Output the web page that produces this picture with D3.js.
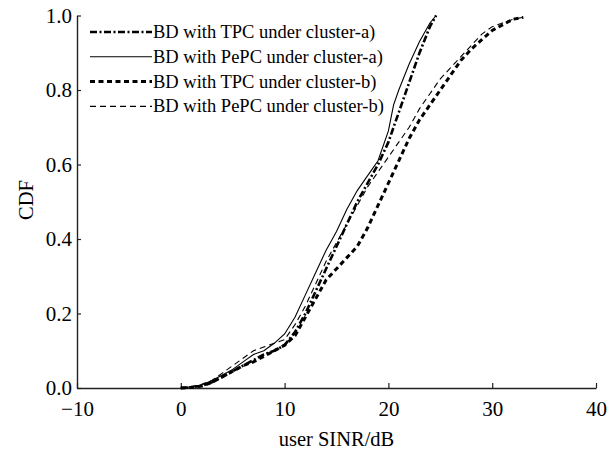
<!DOCTYPE html>
<html>
<head>
<meta charset="utf-8">
<script src="https://cdn.jsdelivr.net/npm/d3@7"></script>
<style>
  body { margin: 0; background: #fff; }
  text { font-family: "Liberation Serif", "Times New Roman", serif; fill: #000; }
</style>
</head>
<body>
<div class="chart"></div>
<script>
// values
var xTicks = [-10, 0, 10, 20, 30, 40];
var yTicks = [0, 0.2, 0.4, 0.6, 0.8, 1.0];

var legendLabels = [
    "BD with TPC under cluster-a)",
    "BD with PePC under cluster-a)",
    "BD with TPC under cluster-b)",
    "BD with PePC under cluster-b)"
];

// TPC, cluster-a (dash-dot, thick)
var sinrTpcA = [0, 1, 2, 3, 4, 5, 6, 7, 8, 9, 10, 11, 12, 13, 14, 15, 16, 17, 18, 19, 20, 21, 22, 23, 24, 24.6];
var cdfTpcA  = [0, 0.002, 0.006, 0.015, 0.03, 0.045, 0.06, 0.075, 0.09, 0.1, 0.115, 0.15, 0.2, 0.26, 0.32, 0.38, 0.44, 0.5, 0.55, 0.6, 0.66, 0.74, 0.82, 0.9, 0.97, 1.0];

// PePC, cluster-a (solid, thin)
var sinrPepcA = [0, 1, 2, 3, 4, 5, 6, 7, 8, 9, 10, 11, 12, 13, 14, 15, 16, 17, 18, 19, 20, 20.5, 21, 22, 23, 24, 24.6];
var cdfPepcA  = [0, 0.003, 0.008, 0.02, 0.035, 0.05, 0.07, 0.09, 0.1, 0.12, 0.145, 0.19, 0.25, 0.31, 0.37, 0.42, 0.48, 0.53, 0.57, 0.61, 0.69, 0.76, 0.8, 0.87, 0.93, 0.98, 1.0];

// TPC, cluster-b (dashed, thick)
var sinrTpcB = [0, 1, 2, 3, 4, 5, 6, 7, 8, 9, 10, 11, 12, 13, 14, 15, 16, 17, 18, 19, 20, 21, 22, 23, 24, 25, 26, 27, 28, 29, 30, 31, 32, 33];
var cdfTpcB  = [0, 0.002, 0.005, 0.015, 0.03, 0.045, 0.06, 0.07, 0.085, 0.1, 0.115, 0.14, 0.19, 0.24, 0.29, 0.32, 0.35, 0.38, 0.43, 0.49, 0.55, 0.61, 0.67, 0.72, 0.76, 0.8, 0.84, 0.88, 0.91, 0.935, 0.96, 0.975, 0.99, 0.995];

// PePC, cluster-b (dashed, thin)
var sinrPepcB = [0, 1, 2, 3, 4, 5, 6, 7, 8, 9, 10, 11, 12, 13, 14, 15, 16, 17, 18, 19, 20, 21, 22, 23, 24, 25, 26, 27, 28, 29, 30, 31, 32, 33];
var cdfPepcB  = [0, 0.003, 0.01, 0.02, 0.04, 0.06, 0.08, 0.1, 0.11, 0.12, 0.13, 0.17, 0.22, 0.28, 0.34, 0.39, 0.44, 0.49, 0.54, 0.58, 0.62, 0.66, 0.7, 0.75, 0.79, 0.83, 0.86, 0.89, 0.92, 0.95, 0.97, 0.98, 0.99, 0.995];

var svgWidth = 610;
var svgHeight = 453;

var margin = { top: 15.5, right: 14, bottom: 65, left: 77 };
var width = svgWidth - margin.left - margin.right;
var height = svgHeight - margin.top - margin.bottom;

var svg = d3.select(".chart")
    .append("svg")
    .attr("width", svgWidth)
    .attr("height", svgHeight);

var chartGroup = svg.append("g")
    .attr("transform", `translate(${margin.left}, ${margin.top})`);

var xScale = d3.scaleLinear().domain([-10, 40]).range([0, width]);
var yScale = d3.scaleLinear().domain([0, 1]).range([height, 0]);

// axes (box off, ticks pointing inward)
var bottomAxis = d3.axisBottom(xScale)
    .tickValues(xTicks)
    .tickSizeInner(-5)
    .tickSizeOuter(0)
    .tickPadding(13);

var leftAxis = d3.axisLeft(yScale)
    .tickValues(yTicks)
    .tickFormat(d3.format(".1f"))
    .tickSizeInner(-4)
    .tickSizeOuter(0)
    .tickPadding(5);

var xAxisG = chartGroup.append("g")
    .attr("transform", `translate(0, ${height})`)
    .call(bottomAxis);

var yAxisG = chartGroup.append("g")
    .call(leftAxis);

[xAxisG, yAxisG].forEach(function(g) {
    g.select(".domain").attr("stroke", "#222").attr("stroke-width", 1.4);
    g.selectAll(".tick line").attr("stroke", "#222").attr("stroke-width", 1.2);
    g.selectAll(".tick text")
        .style("font-family", '"Liberation Serif", "Times New Roman", serif')
        .style("font-size", "21px")
        .attr("fill", "#000");
});

// series
var series = [
    { x: sinrTpcA,  y: cdfTpcA,  width: 2.6, dash: "7,2.5,2,2.5" },
    { x: sinrPepcA, y: cdfPepcA, width: 1.1, dash: null },
    { x: sinrTpcB,  y: cdfTpcB,  width: 3,   dash: "5,3.5" },
    { x: sinrPepcB, y: cdfPepcB, width: 1.1, dash: "6,4" }
];

var line = d3.line()
    .x(d => xScale(d[0]))
    .y(d => yScale(d[1]));

series.forEach(function(s) {
    var pts = s.x.map((v, i) => [v, s.y[i]]);
    chartGroup.append("path")
        .datum(pts)
        .attr("fill", "none")
        .attr("stroke", "#000")
        .attr("stroke-width", s.width)
        .attr("stroke-dasharray", s.dash)
        .attr("d", line);
});

// legend
var legend = svg.append("g");
series.forEach(function(s, i) {
    var yPos = 32 + i * 24.8;
    legend.append("line")
        .attr("x1", 90).attr("x2", 152)
        .attr("y1", yPos).attr("y2", yPos)
        .attr("stroke", "#000")
        .attr("stroke-width", s.width)
        .attr("stroke-dasharray", s.dash);
    legend.append("text")
        .attr("x", 153)
        .attr("y", yPos + 6)
        .style("font-size", "18.5px")
        .text(legendLabels[i]);
});

// axis labels
svg.append("text")
    .attr("x", margin.left + xScale(15))
    .attr("y", 446)
    .attr("text-anchor", "middle")
    .style("font-size", "20.5px")
    .text("user SINR/dB");

svg.append("text")
    .attr("transform", "translate(33, 200) rotate(-90)")
    .attr("text-anchor", "middle")
    .style("font-size", "20.5px")
    .text("CDF");
</script>
</body>
</html>
